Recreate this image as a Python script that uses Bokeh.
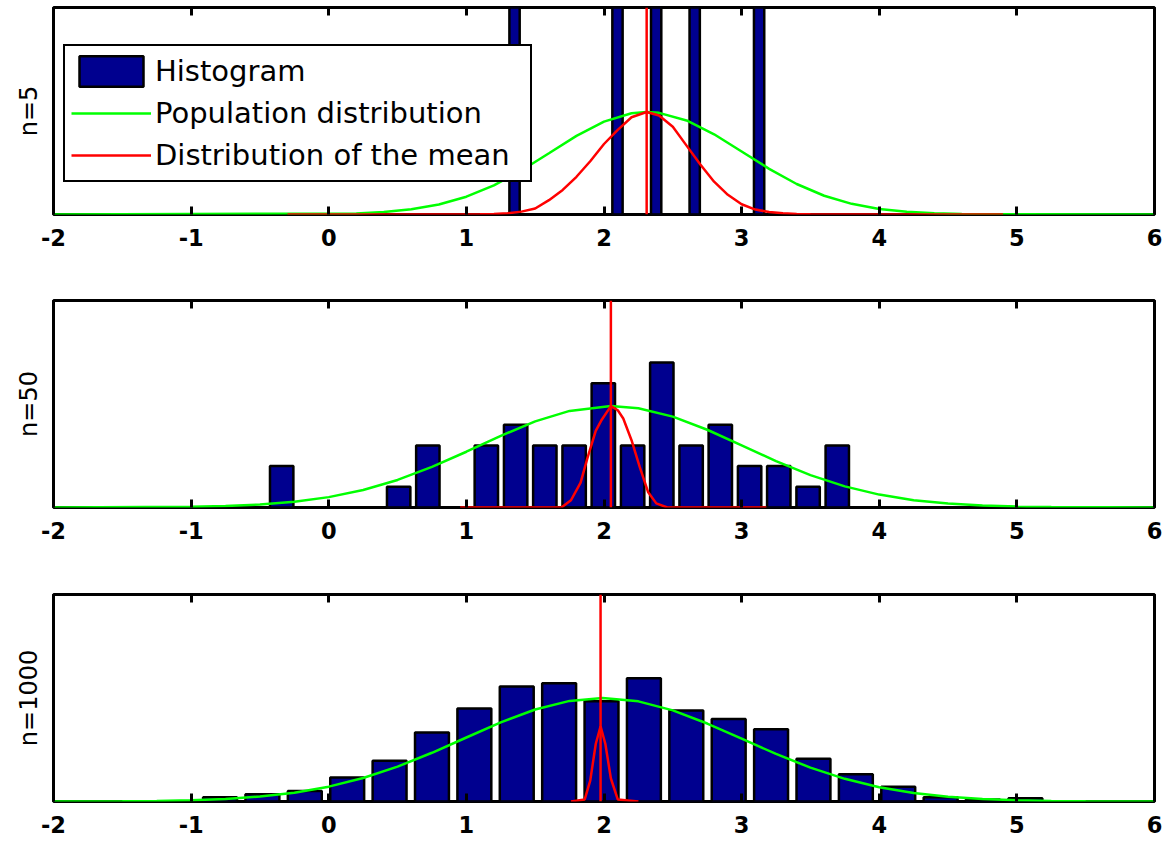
from bokeh.plotting import figure
from bokeh.layouts import column
from bokeh.models import Range1d, FixedTicker, LinearAxis, Legend, LegendItem
from bokeh.embed import file_html
from bokeh.resources import INLINE

FONT = "DejaVu Sans"
BAR_FILL = "#00008F"
GREEN = "#00FF00"
RED = "#FF0000"

# shared x axis
x_ticks = [-2, -1, 0, 1, 2, 3, 4, 5, 6]
x_tick_labels = ["-2", "-1", "0", "1", "2", "3", "4", "5", "6"]

# per-panel settings
sample_sizes = ["n=5", "n=50", "n=1000"]
y_tops = [0.505, 10, 198]
sample_means = [2.31, 2.05, 1.975]
bin_widths = [0.0935, 0.2125, 0.308]

# ---- n = 5 ----
hist5_centers = [1.350, 2.098, 2.379, 2.659, 3.127]
hist5_counts = [1, 1, 1, 1, 1]

pop5_x = [-2.0, 0.2, 0.4, 0.6, 0.8, 1.0, 1.2, 1.4, 1.6, 1.8, 2.0, 2.2, 2.31,
          2.4, 2.6, 2.8, 3.0, 3.2, 3.4, 3.6, 3.8, 4.0, 4.2, 4.4, 4.6, 6.0]
pop5_y = [0.0, 0.0027, 0.0060, 0.0126, 0.0244, 0.0434, 0.0711, 0.1074, 0.1495,
          0.1917, 0.2267, 0.2469, 0.2500, 0.2480, 0.2295, 0.1957, 0.1538, 0.1114,
          0.0744, 0.0458, 0.0260, 0.0136, 0.0065, 0.0029, 0.0012, 0.0]

mean5_x = [-0.3, 1.1, 1.2, 1.3, 1.4, 1.5, 1.6, 1.7, 1.8, 1.9, 2.0, 2.1, 2.2, 2.31,
           2.4, 2.5, 2.6, 2.7, 2.8, 2.9, 3.0, 3.1, 3.2, 3.3, 3.4, 3.5, 4.9]
mean5_y = [0.0, 0.0004, 0.0012, 0.0030, 0.0070, 0.0146, 0.0350, 0.0600, 0.0920,
           0.1300, 0.1720, 0.2066, 0.2373, 0.2500, 0.2414, 0.2139, 0.1680, 0.1220,
           0.0800, 0.0480, 0.0250, 0.0120, 0.0060, 0.0030, 0.0015, 0.0005, 0.0]

# ---- n = 50 ----
hist50_centers = [-0.342, -0.130, 0.083, 0.295, 0.508, 0.720, 0.933, 1.145, 1.358, 1.570,
                  1.783, 1.995, 2.208, 2.420, 2.633, 2.845, 3.058, 3.270, 3.483, 3.695]
hist50_counts = [2, 0, 0, 0, 1, 3, 0, 3, 4, 3, 3, 6, 3, 7, 3, 4, 2, 2, 1, 3]

pop50_x = [-2.0, -1.0, -0.75, -0.5, -0.25, 0.0, 0.25, 0.5, 0.75, 1.0, 1.25, 1.5, 1.75, 2.05,
           2.25, 2.5, 2.75, 3.0, 3.25, 3.5, 3.75, 4.0, 4.25, 4.5, 4.75, 5.0, 5.25, 6.0]
pop50_y = [0.0, 0.031, 0.070, 0.144, 0.278, 0.501, 0.845, 1.331, 1.959, 2.694, 3.462, 4.158,
           4.667, 4.9, 4.795, 4.390, 3.756, 3.003, 2.243, 1.566, 1.021, 0.623, 0.355, 0.189,
           0.094, 0.044, 0.019, 0.0]

mean50_x = [0.955, 1.69, 1.76, 1.83, 1.88, 1.94, 1.98, 2.05, 2.10, 2.14, 2.20, 2.26, 2.32,
            2.38, 2.46, 3.18]
mean50_y = [0.0, 0.0, 0.35, 1.2, 2.4, 3.7, 4.2, 4.9, 4.7, 4.3, 3.25, 1.95, 0.75, 0.2, 0.0, 0.0]

# ---- n = 1000 ----
hist1000_centers = [-0.790, -0.482, -0.174, 0.134, 0.442, 0.750, 1.058, 1.366, 1.674, 1.982,
                    2.290, 2.598, 2.906, 3.214, 3.522, 3.830, 4.138, 4.446, 4.754, 5.062]
hist1000_counts = [4, 7, 10, 23, 39, 66, 89, 110, 113, 96, 118, 87, 79, 69, 41, 26, 14, 4, 2, 3]

pop1000_x = [-2.0, -1.5, -1.25, -1.0, -0.75, -0.5, -0.25, 0.0, 0.25, 0.5, 0.75, 1.0, 1.25,
             1.5, 1.75, 1.99, 2.25, 2.5, 2.75, 3.0, 3.25, 3.5, 3.75, 4.0, 4.25, 4.5, 4.75,
             5.0, 5.25, 5.5, 6.0]
pop1000_y = [0.0, 0.25, 0.58, 1.24, 2.50, 4.74, 8.46, 14.21, 22.45, 33.35, 46.60, 61.23,
             75.69, 88.01, 96.24, 99.0, 95.78, 87.15, 74.58, 60.05, 45.47, 32.38, 21.69,
             13.66, 8.10, 4.51, 2.37, 1.17, 0.54, 0.24, 0.0]

mean1000_x = [1.76, 1.86, 1.90, 1.94, 1.975, 2.01, 2.05, 2.10, 2.25]
mean1000_y = [0, 2, 20, 55, 72, 55, 22, 2, 0]


def style_x_axis(axis, show_labels):
    axis.ticker = FixedTicker(ticks=x_ticks)
    if show_labels:
        axis.major_label_overrides = dict(zip(x_ticks, x_tick_labels))
    else:
        axis.major_label_overrides = {t: "" for t in x_ticks}
    axis.axis_line_color = None
    axis.major_tick_in = 8
    axis.major_tick_out = 0
    axis.major_tick_line_width = 3
    axis.major_tick_line_color = "black"
    axis.minor_tick_line_color = None
    axis.major_label_standoff = 14 if show_labels else 0
    axis.major_label_text_font = FONT
    axis.major_label_text_font_style = "bold"
    axis.major_label_text_font_size = "22.5px"
    axis.major_label_text_color = "black"


def make_panel(idx, centers, counts, pop_x, pop_y, mean_x, mean_y,
               height, border_top, border_bottom):
    y_top = y_tops[idx]
    p = figure(width=1166, height=height,
               x_range=Range1d(-2, 6), y_range=Range1d(0, y_top),
               output_backend="svg", toolbar_location=None,
               min_border_left=53, min_border_right=12,
               min_border_top=border_top, min_border_bottom=border_bottom)
    p.xgrid.visible = False
    p.ygrid.visible = False
    p.outline_line_color = "black"
    p.outline_line_width = 3
    p.outline_line_alpha = 1.0
    p.background_fill_color = "white"
    p.border_fill_color = "white"

    bars = p.vbar(x=centers, top=counts, bottom=0, width=0.8 * bin_widths[idx],
                  fill_color=BAR_FILL, line_color="black", line_width=2.5)
    pop = p.line(pop_x, pop_y, line_color=GREEN, line_width=2.5)
    dist = p.line(mean_x, mean_y, line_color=RED, line_width=2.5)
    m = sample_means[idx]
    p.segment(x0=[m], y0=[0], x1=[m], y1=[y_top], line_color=RED, line_width=2.5)

    style_x_axis(p.xaxis[0], True)
    top_axis = LinearAxis()
    style_x_axis(top_axis, False)
    p.add_layout(top_axis, "above")

    yax = p.yaxis[0]
    yax.ticker = FixedTicker(ticks=[])
    yax.axis_line_color = None
    yax.major_tick_in = 0
    yax.major_tick_out = 0
    yax.minor_tick_line_color = None
    yax.major_label_standoff = 0
    yax.axis_label = sample_sizes[idx]
    yax.axis_label_standoff = 11
    yax.axis_label_text_font = FONT
    yax.axis_label_text_font_style = "normal"
    yax.axis_label_text_font_size = "24px"
    yax.axis_label_text_color = "black"
    return p, bars, pop, dist


p1, b1, g1, r1 = make_panel(0, hist5_centers, hist5_counts, pop5_x, pop5_y,
                            mean5_x, mean5_y, 280, 7, 66)
p2, _, _, _ = make_panel(1, hist50_centers, hist50_counts, pop50_x, pop50_y,
                         mean50_x, mean50_y, 294, 20, 67)
p3, _, _, _ = make_panel(2, hist1000_centers, hist1000_counts, pop1000_x, pop1000_y,
                         mean1000_x, mean1000_y, 268, 20, 41)

legend = Legend(items=[
    LegendItem(label="Histogram", renderers=[b1]),
    LegendItem(label="Population distribution", renderers=[g1]),
    LegendItem(label="Distribution of the mean", renderers=[r1]),
], location=(10, 32))
legend.label_text_font = FONT
legend.label_text_font_style = "normal"
legend.label_text_font_size = "29px"
legend.label_text_color = "black"
legend.border_line_color = "black"
legend.border_line_alpha = 1.0
legend.border_line_width = 2
legend.background_fill_color = "white"
legend.background_fill_alpha = 1.0
legend.glyph_width = 80
legend.glyph_height = 38
legend.label_height = 38
legend.label_width = 369
legend.label_standoff = 4
legend.spacing = 4
legend.padding = 6
legend.margin = 0
p1.add_layout(legend)

layout = column(p1, p2, p3, spacing=0)

with open("out.html", "w") as f:
    f.write(file_html(layout, INLINE))
